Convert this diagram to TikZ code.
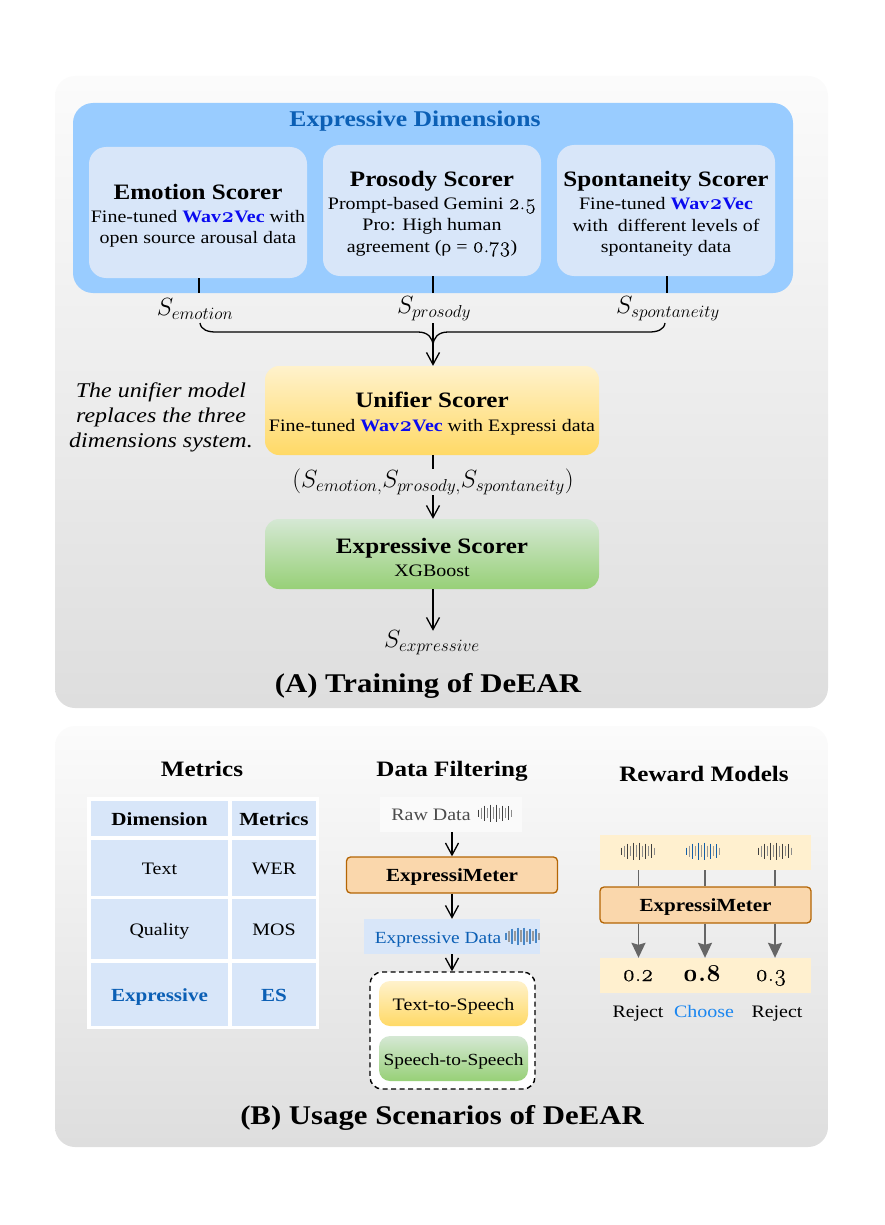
\documentclass[tikz,border=0pt]{standalone}
\usepackage{fontspec}
\setmainfont[FakeStretch=1.14]{Liberation Serif}
\newfontfamily\oldnum[Numbers=OldStyle, Scale=1.22, FakeBold=0.3]{Latin Modern Roman}
\newfontfamily\oldbold[Numbers=OldStyle, Scale=1.22]{Latin Modern Roman}
\DeclareMathSizes{24}{24}{17.4}{14}
\usetikzlibrary{arrows.meta}
\definecolor{dimblue}{HTML}{99CCFF}
\definecolor{cardblue}{HTML}{D8E6F9}
\definecolor{headblue}{HTML}{0B5FB5}
\definecolor{wavblue}{HTML}{0A0AF0}
\definecolor{meterfill}{HTML}{FAD7AC}
\definecolor{meterline}{HTML}{B46504}
\definecolor{stripfill}{HTML}{FFF0CF}
\definecolor{chooseblue}{HTML}{1A86F0}
\definecolor{goldtop}{HTML}{FFF2CC}
\definecolor{goldbot}{HTML}{FFD966}
\definecolor{greentop}{HTML}{D5E8D4}
\definecolor{greenbot}{HTML}{97D077}
\newcommand{\bodyfont}{\fontsize{17.5}{21.5}\selectfont}
\newcommand{\headfont}{\fontsize{22}{26}\selectfont\bfseries}
\newcommand{\boldsmall}{\fontsize{18.5}{22}\selectfont\bfseries}
\newcommand{\mathfont}{\fontsize{24}{29}\selectfont}
\newcommand{\topgap}{\rule{0pt}{22pt}}
\newcommand{\wavname}{\textcolor{wavblue}{\textbf{Wav{\oldbold 2}Vec}}}
\newcommand{\wavebars}[4]{%
    \foreach \o/\h/\c in {-16.5/7/#3,-13.5/11/#4,-10.5/15/#3,-7.5/10/#4,-4.5/17/#3,-1.5/12/#4,1.5/17/#3,4.5/11/#4,7.5/15/#3,10.5/10/#4,13.5/14/#3,16.5/7/#4} {
        \draw[line width=1.2pt, draw=\c] (#1+\o,#2-\h/2) -- (#1+\o,#2+\h/2);
    }
}
\tikzset{
    panel/.style={rounded corners=20pt, inner sep=0pt, top color=black!1.5, bottom color=black!13, minimum width=773pt},
    scorer/.style={rounded corners=17pt, fill=cardblue, inner sep=0pt, minimum width=218pt, minimum height=131pt, align=center, font=\bodyfont},
    goldbox/.style={rounded corners=14pt, inner sep=0pt, top color=goldtop, bottom color=goldbot, align=center, font=\bodyfont},
    greenbox/.style={rounded corners=14pt, inner sep=0pt, top color=greentop, bottom color=greenbot, align=center, font=\bodyfont},
    oneline/.style={text height=15pt, text depth=2pt},
    meter/.style={oneline, rounded corners=4pt, draw=meterline, line width=1.3pt, fill=meterfill, inner sep=0pt, minimum width=211pt, minimum height=36pt, font=\boldsmall},
    cell/.style={oneline, fill=cardblue, inner sep=0pt, font=\bodyfont},
    strip/.style={fill=stripfill, inner sep=0pt, minimum width=211pt, minimum height=35pt},
    label/.style={oneline, inner sep=0pt, font=\bodyfont},
    score/.style={inner sep=0pt, font=\mathfont},
    conn/.style={line width=1.3pt, black},
    tipped/.style={conn, -{Straight Barb[length=12pt,width=13pt]}},
    grayline/.style={line width=1.8pt, black!60},
    grayarrow/.style={grayline, -{Stealth[length=15pt,width=14pt,inset=2pt]}},
}
\begin{document}
\begin{tikzpicture}[x=1pt, y=-1pt]
    \useasboundingbox (0,0) rectangle (884,1225);
    % Panels
    \node[panel, minimum height=632pt] (panela) at (441.5,392) {};
    \node[panel, minimum height=421pt] (panelb) at (441.5,936.5) {};

    % Expressive dimensions
    \node[rounded corners=20pt, fill=dimblue, inner sep=0pt, minimum width=720pt, minimum height=190pt] (dims) at (433,198) {};
    \node[inner sep=0pt, text=headblue, font=\fontsize{22.5}{26}\selectfont\bfseries] (dimstitle) at (415,121) {Expressive Dimensions};
    \node[scorer] (emotion) at (198,212.5) {\topgap{\headfont Emotion Scorer}\\[1.5pt] Fine-tuned \wavname{} with\\ open source arousal data};
    \node[scorer] (prosody) at (432,210.5) {\topgap{\headfont Prosody Scorer}\\[1.5pt] Prompt-based Gemini {\oldnum 2.5}\\ Pro: High human\\ agreement (ρ = {\oldnum 0.73})};
    \node[scorer] (spontaneity) at (666,210.5) {\topgap{\headfont Spontaneity Scorer}\\[1.5pt] Fine-tuned \wavname\\ with\ \ different levels of\\ spontaneity data};

    % Scores
    \node[score] (semotion) at (195,309) {$S_{emotion}$};
    \node[score] (sprosody) at (434,309) {$S_{prosody}$};
    \node[score] (sspontaneity) at (668,309) {$S_{spontaneity}$};
    \draw[conn] ([xshift=1pt]emotion.south) -- ([xshift=1pt]emotion.south |- dims.south);
    \draw[conn] ([xshift=1pt]prosody.south) -- ([xshift=1pt]prosody.south |- dims.south);
    \draw[conn] ([xshift=1pt]spontaneity.south) -- ([xshift=1pt]spontaneity.south |- dims.south);

    % Unifier
    \node[goldbox, minimum width=334pt, minimum height=89pt] (unifier) at (432,410.5) {\topgap{\headfont Unifier Scorer}\\[2.5pt] Fine-tuned \wavname{} with Expressi data};
    \node[inner sep=0pt, align=center, font=\fontsize{21}{25}\selectfont\itshape] (note) at (161,417) {The unifier model\\ replaces the three\\ dimensions system.};

    % Brace into the unifier
    \coordinate (braceleft) at (200,323);
    \coordinate (braceright) at (665,323);
    \coordinate (bracemid) at (433,323);
    \coordinate (bracejoin) at (433,346);
    \draw[conn] (braceleft) .. controls +(1,7) and +(-8,0) .. ++(16,9) -- (418,332) .. controls +(10,0) and +(0,-8) .. (bracejoin);
    \draw[conn] (braceright) .. controls +(-1,7) and +(8,0) .. ++(-16,9) -- (448,332) .. controls +(-10,0) and +(0,-8) .. (bracejoin);
    \draw[tipped] (bracemid) -- (bracemid |- unifier.north);

    % Expressive scorer
    \node[score] (tuple) at (433,482) {$(S_{emotion,}S_{prosody,}S_{spontaneity})$};
    \node[greenbox, minimum width=334pt, minimum height=70pt] (expressive) at (432,554) {\topgap{\headfont Expressive Scorer}\\[1.5pt] XGBoost};
    \node[score] (sexpressive) at (432,643) {$S_{expressive}$};
    \draw[conn] ([xshift=1pt]unifier.south) -- ([xshift=1pt]unifier.south |- tuple.north);
    \draw[tipped] (tuple.south) -- (tuple.south |- expressive.north);
    \draw[tipped] ([xshift=1pt]expressive.south) -- ([xshift=1pt]expressive.south |- sexpressive.north);
    \node[inner sep=0pt, font=\fontsize{27}{32}\selectfont\bfseries] (titlea) at (428,685.5) {(A) Training of DeEAR};

    % Metrics table
    \node[inner sep=0pt, font=\headfont] (metricstitle) at (202,769) {Metrics};
    \node[fill=white, inner sep=0pt, minimum width=232pt, minimum height=232pt] (tableback) at (203,913) {};
    \node[cell, minimum width=137pt, minimum height=35pt, font=\boldsmall] (dimhead) at (159.5,818.5) {Dimension};
    \node[cell, minimum width=84pt, minimum height=35pt, font=\boldsmall] (methead) at (274,818.5) {Metrics};
    \node[cell, minimum width=137pt, minimum height=56pt] (textcell) at (159.5,868) {Text};
    \node[cell, minimum width=84pt, minimum height=56pt] (wercell) at (274,868) {WER};
    \node[cell, minimum width=137pt, minimum height=60pt] (qualcell) at (159.5,929) {Quality};
    \node[cell, minimum width=84pt, minimum height=60pt] (moscell) at (274,929) {MOS};
    \node[cell, minimum width=137pt, minimum height=63pt, text=headblue, font=\boldsmall] (exprcell) at (159.5,994.5) {Expressive};
    \node[cell, minimum width=84pt, minimum height=63pt, text=headblue, font=\boldsmall] (escell) at (274,994.5) {ES};

    % Data filtering
    \node[inner sep=0pt, font=\headfont] (filtertitle) at (452,771) {Data Filtering};
    \node[fill=black!2, inner sep=0pt, minimum width=142pt, minimum height=35pt] (rawback) at (451,814.5) {};
    \node[label, text=black!70] (rawtext) at (431,813.5) {Raw Data};
    \wavebars{495}{813}{black!75}{black!45}
    \node[meter] (filtermeter) at (452,875) {ExpressiMeter};
    \node[fill=cardblue, inner sep=0pt, minimum width=176pt, minimum height=35pt] (exprback) at (452,936.5) {};
    \node[label, text=headblue, font=\fontsize{17}{21}\selectfont] (exprtext) at (438,936.5) {Expressive Data};
    \wavebars{522.5}{936}{headblue!75}{black!40}
    \node[rounded corners=12pt, draw=black, line width=1.4pt, dash pattern=on 5pt off 3.5pt, fill=white, inner sep=0pt, minimum width=165pt, minimum height=117pt] (outbox) at (452.5,1030.5) {};
    \node[goldbox, oneline, rounded corners=11pt, minimum width=149pt, minimum height=45pt] (tts) at (453.5,1003.5) {Text-to-Speech};
    \node[greenbox, oneline, rounded corners=11pt, minimum width=149pt, minimum height=45pt, font=\fontsize{17}{21}\selectfont] (sts) at (453.5,1058.5) {Speech-to-Speech};
    \draw[tipped] (rawback.south -| filtermeter.north) -- (filtermeter.north);
    \draw[tipped] (filtermeter.south) -- (filtermeter.south |- exprback.north);
    \draw[tipped] (exprback.south) -- (outbox.north -| exprback.south);

    % Reward models
    \node[inner sep=0pt, font=\headfont] (rewardtitle) at (704,774) {Reward Models};
    \node[strip] (wavestrip) at (705.5,852.5) {};
    \wavebars{638}{851}{black!75}{black!45}
    \wavebars{703}{851}{chooseblue!70!black}{black!40}
    \wavebars{775}{851}{black!75}{black!45}
    \node[meter] (rewardmeter) at (705.5,905) {ExpressiMeter};
    \node[strip] (scorestrip) at (705.5,975.5) {};
    \node[label, text height=10pt, text depth=0pt, font=\fontsize{19.5}{22}\selectfont\oldnum] (scorea) at (638,976) {0.2};
    \node[label, text height=10pt, text depth=0pt, font=\fontsize{20}{24}\selectfont\oldbold\bfseries] (scoreb) at (702,976) {0.8};
    \node[label, text height=10pt, text depth=0pt, font=\fontsize{19.5}{22}\selectfont\oldnum] (scorec) at (771,976) {0.3};
    \foreach \x/\name in {638.5/a,705/b,775/c} {
        \coordinate (rewardx\name) at (\x,900);
        \draw[grayline] (wavestrip.south -| rewardx\name) -- (rewardmeter.north -| rewardx\name);
        \draw[grayarrow] (rewardmeter.south -| rewardx\name) -- (scorestrip.north -| rewardx\name);
    }
    \node[label] (rejecta) at (638,1010.5) {Reject};
    \node[label, text=chooseblue] (choose) at (704,1010.5) {Choose};
    \node[label] (rejectb) at (777,1010.5) {Reject};

    \node[inner sep=0pt, font=\fontsize{27}{32}\selectfont\bfseries] (titleb) at (442,1117.5) {(B) Usage Scenarios of DeEAR};
\end{tikzpicture}
\end{document}
